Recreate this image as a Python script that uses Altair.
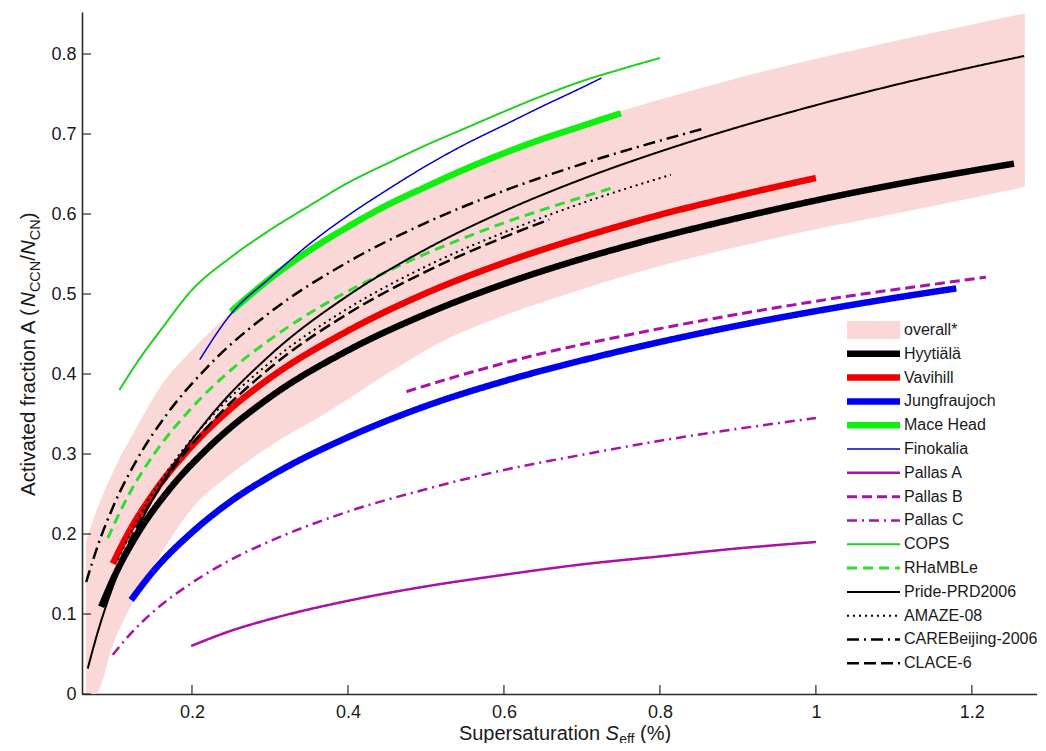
import altair as alt
import pandas as pd

# ---------------- data ----------------
band_S = [0.064, 0.076, 0.1, 0.13, 0.16, 0.2, 0.25, 0.3, 0.37, 0.45, 0.53, 0.6, 0.7, 0.8, 0.9, 1.0, 1.1, 1.2, 1.268]
band_hi = [0.19, 0.225, 0.28, 0.335, 0.385, 0.43, 0.477, 0.518, 0.566, 0.61, 0.648, 0.677, 0.713, 0.743, 0.77, 0.794, 0.816, 0.837, 0.851]
band_lo = [0.0, 0.0, 0.065, 0.125, 0.175, 0.232, 0.275, 0.31, 0.35, 0.40, 0.445, 0.473, 0.506, 0.535, 0.559, 0.581, 0.600, 0.620, 0.634]

hyy_S = [0.0836, 0.1, 0.13, 0.17, 0.22, 0.3, 0.4, 0.5, 0.6, 0.7, 0.8, 0.9, 1.0, 1.1, 1.254]
hyy_A = [0.109, 0.146, 0.200, 0.2545, 0.307, 0.371, 0.4295, 0.475, 0.5125, 0.544, 0.571, 0.595, 0.617, 0.6365, 0.663]

vav_S = [0.0985, 0.12, 0.15, 0.2, 0.25, 0.3, 0.4, 0.5, 0.6, 0.7, 0.8, 0.9, 1.0]
vav_A = [0.163, 0.204, 0.250, 0.310, 0.357, 0.395, 0.454, 0.501, 0.539, 0.571, 0.599, 0.623, 0.645]

jun_S = [0.122, 0.15, 0.2, 0.25, 0.3, 0.4, 0.5, 0.6, 0.7, 0.8, 0.9, 1.0, 1.1, 1.18]
jun_A = [0.1175, 0.153, 0.202, 0.241, 0.272, 0.321, 0.360, 0.391, 0.417, 0.440, 0.4605, 0.4786, 0.495, 0.507]

mace_S = [0.25, 0.3, 0.35, 0.4, 0.45, 0.5, 0.55, 0.6, 0.65, 0.7, 0.75]
mace_A = [0.478, 0.519, 0.554, 0.584, 0.611, 0.634, 0.656, 0.676, 0.694, 0.710, 0.726]

fino_S = [0.21, 0.25, 0.3, 0.35, 0.4, 0.45, 0.5, 0.55, 0.6, 0.65, 0.7, 0.725]
fino_A = [0.418, 0.475, 0.52, 0.562, 0.598, 0.63, 0.66, 0.687, 0.711, 0.735, 0.758, 0.770]

pa_S = [0.199, 0.25, 0.3, 0.4, 0.5, 0.6, 0.7, 0.8, 0.9, 1.0]
pa_A = [0.060, 0.079, 0.0935, 0.1165, 0.1345, 0.149, 0.162, 0.172, 0.182, 0.190]

pb_S = [0.475, 0.55, 0.65, 0.75, 0.85, 0.95, 1.05, 1.15, 1.218]
pb_A = [0.378, 0.400, 0.426, 0.447, 0.466, 0.483, 0.4985, 0.512, 0.521]

pc_S = [0.0985, 0.12, 0.15, 0.2, 0.25, 0.3, 0.4, 0.5, 0.6, 0.7, 0.8, 0.9, 1.0]
pc_A = [0.049, 0.074, 0.1025, 0.139, 0.168, 0.191, 0.228, 0.256, 0.280, 0.299, 0.3165, 0.3315, 0.345]

cops_S = [0.107, 0.13, 0.16, 0.2, 0.25, 0.3, 0.35, 0.4, 0.45, 0.5, 0.55, 0.6, 0.65, 0.7, 0.75, 0.8]
cops_A = [0.38, 0.415, 0.455, 0.505, 0.546, 0.58, 0.61, 0.639, 0.663, 0.686, 0.707, 0.728, 0.748, 0.766, 0.781, 0.795]

rh_S = [0.092, 0.12, 0.15, 0.2, 0.25, 0.3, 0.35, 0.4, 0.45, 0.5, 0.55, 0.6, 0.65, 0.7, 0.737]
rh_A = [0.195, 0.251, 0.298, 0.358, 0.405, 0.443, 0.4755, 0.5035, 0.528, 0.5505, 0.5705, 0.589, 0.6055, 0.621, 0.632]

pride_S = [0.0664, 0.08, 0.1, 0.13, 0.17, 0.22, 0.3, 0.4, 0.5, 0.6, 0.7, 0.8, 0.9, 1.0, 1.1, 1.2, 1.267]
pride_A = [0.032, 0.080, 0.138, 0.2065, 0.276, 0.343, 0.4235, 0.498, 0.556, 0.6035, 0.6435, 0.678, 0.7085, 0.736, 0.761, 0.7835, 0.7975]

amaze_S = [0.105, 0.13, 0.17, 0.22, 0.3, 0.4, 0.5, 0.6, 0.7, 0.814]
amaze_A = [0.168, 0.218, 0.281, 0.3415, 0.4145, 0.482, 0.5345, 0.577, 0.6135, 0.649]

care_S = [0.0644, 0.08, 0.1, 0.13, 0.17, 0.22, 0.3, 0.4, 0.5, 0.6, 0.7, 0.857]
care_A = [0.140, 0.1875, 0.2365, 0.294, 0.3525, 0.409, 0.477, 0.540, 0.589, 0.629, 0.6625, 0.707]

clace_S = [0.085, 0.1, 0.13, 0.17, 0.22, 0.3, 0.4, 0.5, 0.6, 0.658]
clace_A = [0.110, 0.148, 0.210, 0.274, 0.334, 0.4075, 0.4755, 0.528, 0.571, 0.593]

series_names = ["overall*", "Hyytiälä", "Vavihill", "Jungfraujoch", "Mace Head", "Finokalia",
                "Pallas A", "Pallas B", "Pallas C", "COPS", "RHaMBLe", "Pride-PRD2006",
                "AMAZE-08", "CAREBeijing-2006", "CLACE-6"]
series_colors = ["#fad8d8", "#000000", "#f00000", "#0000f0", "#10f010", "#0000cc",
                 "#aa10aa", "#aa10aa", "#aa10aa", "#20d020", "#30dd30", "#000000",
                 "#000000", "#000000", "#000000"]
series_widths = [18, 6.5, 6.5, 6.5, 6.5, 1.5, 2.5, 3, 2.5, 2, 3, 2, 2, 2.5, 2.5]
series_dash = [[1, 0], [1, 0], [1, 0], [1, 0], [1, 0], [1, 0], [1, 0], [10, 5], [10, 5, 2, 5],
               [1, 0], [10, 6], [1, 0], [2, 4], [12, 5, 2, 5], [12, 5]]

x_ticks = [0.2, 0.4, 0.6, 0.8, 1.0, 1.2]
y_ticks = [0, 0.1, 0.2, 0.3, 0.4, 0.5, 0.6, 0.7, 0.8]

# ---------------- tables ----------------
series_data = [
    ("Hyytiälä", hyy_S, hyy_A), ("Vavihill", vav_S, vav_A), ("Jungfraujoch", jun_S, jun_A),
    ("Mace Head", mace_S, mace_A), ("Finokalia", fino_S, fino_A), ("Pallas A", pa_S, pa_A),
    ("Pallas B", pb_S, pb_A), ("Pallas C", pc_S, pc_A), ("COPS", cops_S, cops_A),
    ("RHaMBLe", rh_S, rh_A), ("Pride-PRD2006", pride_S, pride_A), ("AMAZE-08", amaze_S, amaze_A),
    ("CAREBeijing-2006", care_S, care_A), ("CLACE-6", clace_S, clace_A),
]
rows = []
for name, ss, aa in series_data:
    for s, a in zip(ss, aa):
        rows.append({"S": s, "A": a, "series": name})
lines_df = pd.DataFrame(rows)
band_df = pd.DataFrame({"S": band_S, "hi": band_hi, "lo": band_lo})
legend_df = pd.DataFrame({"series": series_names})

FONT = "Liberation Sans"
TXT = "#1a1a1a"
AX = "#2a2a2a"
W, H = 955, 682

xs = alt.Scale(domain=[0.059, 1.2835], nice=False, zero=False)
ys = alt.Scale(domain=[0, 0.8525], nice=False, zero=False)
xaxis = alt.Axis(values=x_ticks, format=".1~f", title=None, ticks=False, tickSize=0, grid=False,
                 labelPadding=9, labelFontSize=18, labelFont=FONT, labelColor=TXT,
                 domainColor=AX, domainWidth=1.4)
yaxis = alt.Axis(values=y_ticks, format=".1~f", title=None, ticks=False, tickSize=0, grid=False,
                 labelPadding=6, labelFontSize=18, labelFont=FONT, labelColor=TXT,
                 domainColor=AX, domainWidth=1.6)

color_sc = alt.Scale(domain=series_names, range=series_colors)
width_sc = alt.Scale(type="ordinal", domain=series_names, range=series_widths)
dash_sc = alt.Scale(domain=series_names, range=series_dash)

band = alt.Chart(band_df).mark_area(color="#fad8d8", interpolate="monotone").encode(
    x=alt.X("S:Q", scale=xs, axis=xaxis),
    y=alt.Y("hi:Q", scale=ys, axis=None),
    y2=alt.Y2("lo:Q"),
)

lines = alt.Chart(lines_df).mark_line(interpolate="monotone", strokeCap="butt").encode(
    x=alt.X("S:Q", scale=xs, axis=xaxis),
    y=alt.Y("A:Q", scale=ys, axis=yaxis),
    color=alt.Color("series:N", scale=color_sc, legend=None),
    strokeWidth=alt.StrokeWidth("series:N", scale=width_sc, legend=None),
    strokeDash=alt.StrokeDash("series:N", scale=dash_sc, legend=None),
)

xt = alt.Chart(pd.DataFrame({"S": x_ticks})).mark_rule(color=AX, strokeWidth=1.2).encode(
    x=alt.X("S:Q", scale=xs, axis=xaxis), y=alt.value(H), y2=alt.value(H - 9))
yt = alt.Chart(pd.DataFrame({"A": y_ticks})).mark_rule(color=AX, strokeWidth=1.2).encode(
    y=alt.Y("A:Q", scale=ys, axis=None), x=alt.value(0), x2=alt.value(9))

# legend built from the same colour / width / dash scales; rows placed by a point scale
leg_rows = alt.Scale(type="point", domain=series_names, range=[318, 651.3], padding=0)
leg_sw = alt.Chart(legend_df).mark_rule(strokeCap="butt").encode(
    y=alt.Y("series:N", scale=leg_rows, axis=None),
    x=alt.value(765), x2=alt.value(818),
    color=alt.Color("series:N", scale=color_sc, legend=None),
    strokeWidth=alt.StrokeWidth("series:N", scale=width_sc, legend=None),
    strokeDash=alt.StrokeDash("series:N", scale=dash_sc, legend=None),
)
leg_tx = alt.Chart(legend_df).mark_text(align="left", baseline="middle", font=FONT, fontSize=16,
                                        color=TXT).encode(
    y=alt.Y("series:N", scale=leg_rows, axis=None),
    x=alt.value(822),
    text="series:N",
)

one = pd.DataFrame({"k": [0]})


def txt(t, x, y, size=20, style="normal", angle=0):
    return alt.Chart(one).mark_text(text=t, font=FONT, fontSize=size, fontStyle=style, color=TXT,
                                    align="left", baseline="alphabetic", angle=angle).encode(
        x=alt.value(x), y=alt.value(y))


# x-axis title: Supersaturation S_eff (%)
xb = H + 46
xtitle = [
    txt("Supersaturation", 376.9, xb),
    txt("S", 523.6, xb, style="italic"),
    txt("eff", 537.2, xb + 3.5, size=14),
    txt("(%)", 558.1, xb),
]
# y-axis title: Activated fraction A (N_CCN/N_CN), rotated
yb = -47
ytitle = [
    txt("Activated fraction A (", yb, 484.0, size=20.5, angle=270),
    txt("N", yb, 294.9, size=20.5, style="italic", angle=270),
    txt("CCN", yb + 5, 280.1, size=14.5, angle=270),
    txt("/", yb, 248.7, size=20.5, angle=270),
    txt("N", yb, 243.0, size=20.5, style="italic", angle=270),
    txt("CN", yb + 5, 228.2, size=14.5, angle=270),
    txt(")", yb, 207.3, size=20.5, angle=270),
]

chart = alt.layer(band, lines, xt, yt, leg_sw, leg_tx, *xtitle, *ytitle).resolve_scale(
    y="independent"
).properties(
    width=W, height=H,
    padding={"left": 74, "top": 4, "right": 0, "bottom": 49},
    autosize=alt.AutoSizeParams(type="none"),
    background="white",
).configure_view(strokeWidth=0)

chart.save("out.html", embed_options={"renderer": "svg", "actions": False})
